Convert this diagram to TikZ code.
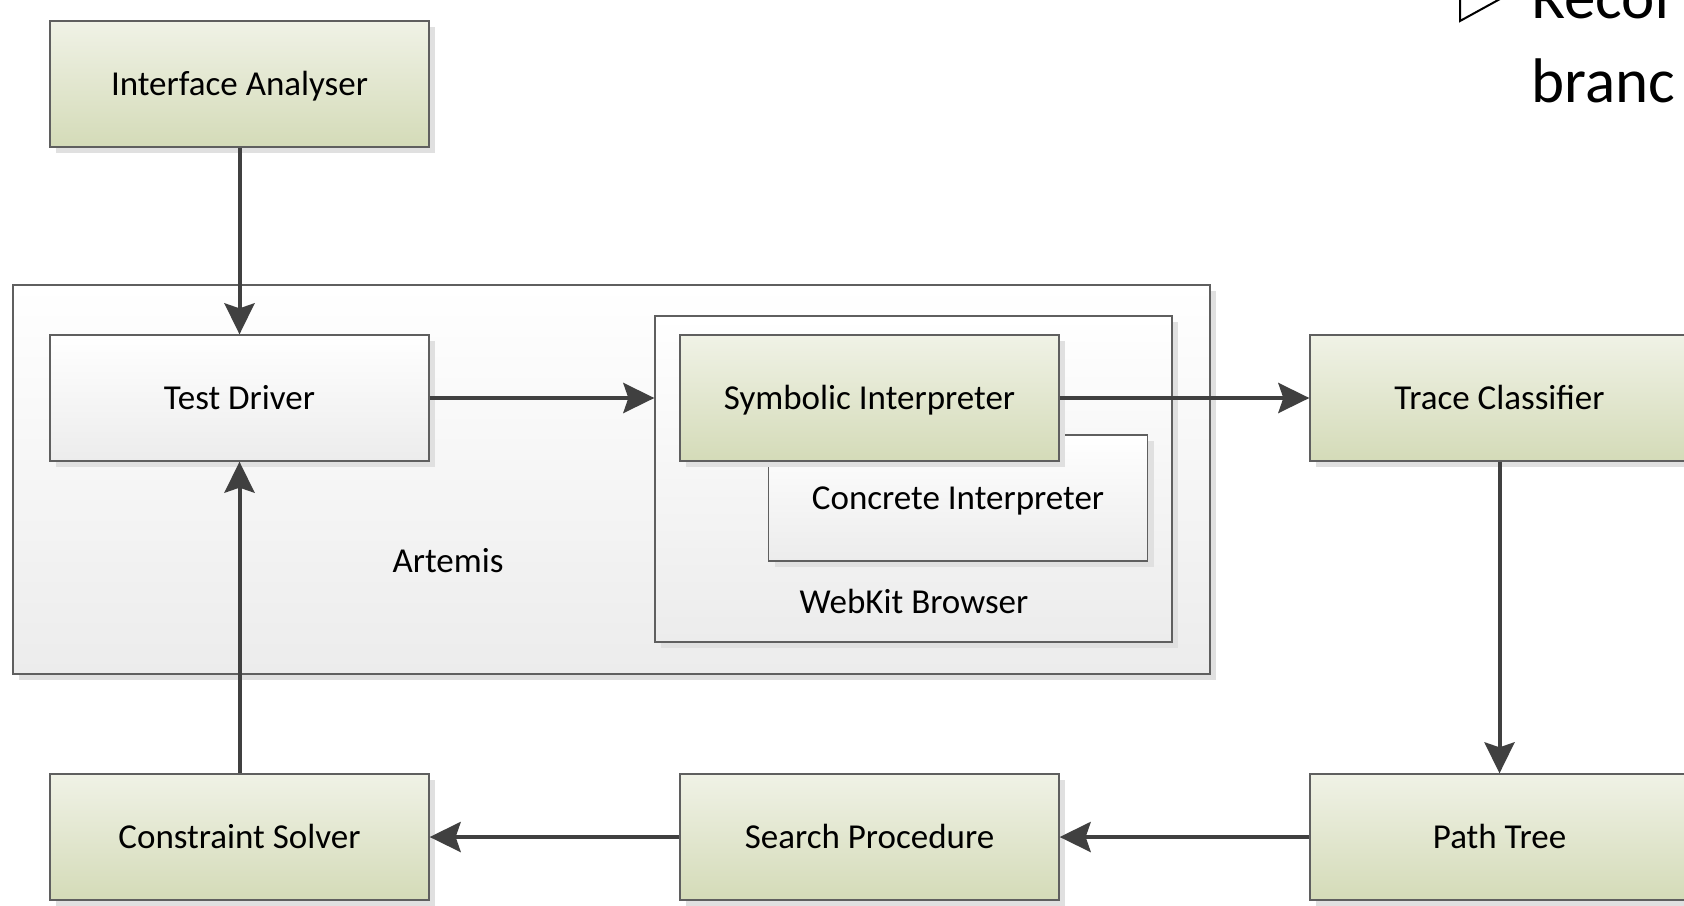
\documentclass[tikz,border=0pt]{standalone}
\usepackage{fontspec}
\setmainfont{Carlito}
\usetikzlibrary{arrows.meta,shadows}
\definecolor{greentop}{RGB}{240,242,230}
\definecolor{greenbot}{RGB}{212,219,184}
\definecolor{boxline}{RGB}{95,95,95}
\definecolor{shadegray}{RGB}{224,224,224}
\definecolor{arrowc}{RGB}{64,64,64}
\definecolor{greybot}{RGB}{236,236,236}
\tikzset{
  shad/.style={drop shadow={shadow xshift=6pt, shadow yshift=-6pt, fill=shadegray, opacity=1}},
  txt/.style={font=\fontsize{35}{42}\selectfont},
  gbox/.style={draw=boxline, line width=1.3pt, top color=greentop, bottom color=greenbot,
    minimum width=379pt, minimum height=126pt, inner sep=0pt, shad, txt,
    text height=29pt, text depth=6.5pt},
  wbox/.style={gbox, top color=white, bottom color=greybot},
  framebox/.style={draw=boxline, line width=1.3pt, top color=white, bottom color=greybot, inner sep=0pt, shad},
  conn/.style={draw=arrowc, line width=4pt, -{Stealth[length=31pt,width=30pt,inset=5pt]}},
  bigtxt/.style={font=\fontsize{63}{84}\selectfont, inner sep=0pt, anchor=base west}
}
\begin{document}
\begin{tikzpicture}[x=1pt,y=-1pt]
\path[fill=white, use as bounding box] (0,0) rectangle (1684,905);
% containers
\node[framebox, minimum width=1197pt, minimum height=389pt] (art) at (611.5,479.5) {};
\node[txt] (artl) at (448,561) {Artemis};
\node[framebox, minimum width=517pt, minimum height=326pt] (wk) at (913.5,479) {};
\node[txt] (wkl) at (914,601) {WebKit Browser};
% boxes
\node[gbox] (ia) at (239.5,84) {Interface Analyser};
\node[wbox] (td) at (239.5,398) {Test Driver};
\node[wbox] (ci) at (958,498) {Concrete Interpreter};
\node[gbox] (si) at (869.5,398) {Symbolic Interpreter};
\node[gbox] (tc) at (1499.5,398) {Trace Classifier};
\node[gbox] (pt) at (1499.5,837) {Path Tree};
\node[gbox] (sp) at (869.5,837) {Search Procedure};
\node[gbox] (cs) at (239.5,837) {Constraint Solver};
% connectors
\draw[conn] (ia) -- (td);
\draw[conn] (td) -- (td -| wk.west);
\draw[conn] (si) -- (tc);
\draw[conn] (tc) -- (pt);
\draw[conn] (pt) -- (sp);
\draw[conn] (sp) -- (cs);
\draw[conn] (cs) -- (td);
% top-right text
\draw[line width=2pt, line join=miter] (1460,-34) -- (1510,-6.5) -- (1460,21) -- cycle;
\node[bigtxt] (rec) at (1531,18) {Recor};
\node[bigtxt] (br) at (1531,102) {branc};
\end{tikzpicture}
\end{document}
